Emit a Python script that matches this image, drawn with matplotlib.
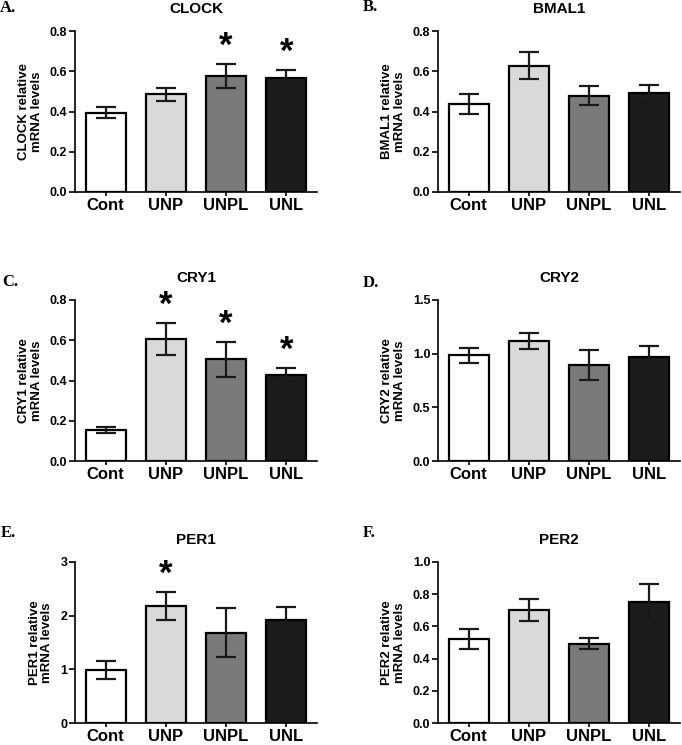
import matplotlib
matplotlib.use("Agg")
from matplotlib import pyplot as plt

groups = ["Cont", "UNP", "UNPL", "UNL"]
bar_colors = ["#ffffff", "#d8d9db", "#797a7c", "#1c1c1c"]

# gene panels: means, SEM, significance markers
clock_mean = [0.395, 0.485, 0.578, 0.568]
clock_err = [0.026, 0.032, 0.060, 0.040]
clock_sig = [False, False, True, True]

bmal1_mean = [0.437, 0.628, 0.479, 0.490]
bmal1_err = [0.048, 0.066, 0.047, 0.042]
bmal1_sig = [False, False, False, False]

cry1_mean = [0.155, 0.605, 0.505, 0.427]
cry1_err = [0.016, 0.080, 0.088, 0.035]
cry1_sig = [False, True, True, True]

cry2_mean = [0.984, 1.119, 0.897, 0.966]
cry2_err = [0.070, 0.072, 0.140, 0.103]
cry2_sig = [False, False, False, False]

per1_mean = [0.99, 2.18, 1.683, 1.913]
per1_err = [0.17, 0.27, 0.46, 0.25]
per1_sig = [False, True, False, False]

per2_mean = [0.522, 0.702, 0.493, 0.752]
per2_err = [0.062, 0.066, 0.033, 0.110]
per2_sig = [False, False, False, False]

panels = [
    ("A.", "CLOCK", clock_mean, clock_err, clock_sig, [0.0, 0.2, 0.4, 0.6, 0.8], "%.1f"),
    ("B.", "BMAL1", bmal1_mean, bmal1_err, bmal1_sig, [0.0, 0.2, 0.4, 0.6, 0.8], "%.1f"),
    ("C.", "CRY1", cry1_mean, cry1_err, cry1_sig, [0.0, 0.2, 0.4, 0.6, 0.8], "%.1f"),
    ("D.", "CRY2", cry2_mean, cry2_err, cry2_sig, [0.0, 0.5, 1.0, 1.5], "%.1f"),
    ("E.", "PER1", per1_mean, per1_err, per1_sig, [0, 1, 2, 3], "%d"),
    ("F.", "PER2", per2_mean, per2_err, per2_sig, [0.0, 0.2, 0.4, 0.6, 0.8, 1.0], "%.1f"),
]

W, H = 682, 745
fig = plt.figure(figsize=(W / 100, H / 100), dpi=100)
plt.rcParams['font.family'] = ['Liberation Sans', 'DejaVu Sans']

col_x = [75, 438]
row_top = [31, 300, 562]
ax_w, ax_h = 242, 161
label_pos = [(0, 8), (363, 7), (2, 282), (363, 283), (1, 533), (363, 533)]

for i, (lab, gene, mean, err, sig, yticks, fmt) in enumerate(panels):
    r, c = divmod(i, 2)
    x0 = col_x[c]
    top = row_top[r]
    ax = fig.add_axes([x0 / W, 1 - (top + ax_h) / H, ax_w / W, ax_h / H])
    xs = range(len(groups))
    ax.bar(xs, mean, width=0.66, color=bar_colors, edgecolor="black", linewidth=1.6, zorder=2)
    ax.errorbar(xs, mean, yerr=err, fmt="none", ecolor="#1a1a1a", elinewidth=1.6,
                capsize=7, capthick=1.6, zorder=3)
    ymax = yticks[-1]
    for x, m, e, s in zip(xs, mean, err, sig):
        if s:
            ax.text(x, m + e + ymax * 0.005, "*", ha="center", va="bottom",
                    fontsize=25, fontweight="bold")
    ax.set_xlim(-0.51, 3.51)
    ax.set_ylim(0, ymax)
    ax.set_yticks(yticks)
    ax.set_yticklabels([fmt % t for t in yticks], fontsize=9, fontweight="bold")
    ax.set_xticks(list(xs))
    ax.set_xticklabels(groups, fontsize=12, fontweight="bold")
    ax.tick_params(axis="y", length=4, width=1.2, pad=1.5)
    ax.tick_params(axis="x", length=3, width=1.2, pad=1)
    for sp in ["top", "right"]:
        ax.spines[sp].set_visible(False)
    for sp in ["left", "bottom"]:
        ax.spines[sp].set_linewidth(1.2)
    ax.set_ylabel(gene + " relative\nmRNA levels", fontsize=9.5, fontweight="bold",
                  linespacing=1.05, labelpad=5)
    ax.set_title(gene, fontsize=11, fontweight="bold", pad=13)
    lx, ly = label_pos[i]
    fig.text(lx / W, 1 - ly / H, lab, fontsize=12, fontweight="bold",
             family="Liberation Serif", ha="left", va="center")

fig.savefig("out.png", dpi=100)
